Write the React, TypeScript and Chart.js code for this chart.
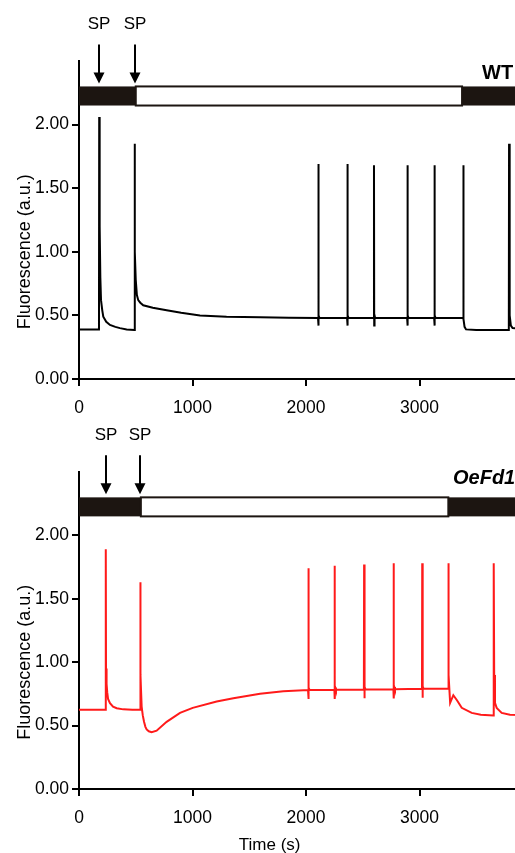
import React, { useEffect, useRef } from 'react';
import { Chart, registerables } from 'chart.js';

Chart.register(...registerables);

const FONT = "'Liberation Sans', Arial, Helvetica, sans-serif";

// Axis ticks and titles
const xTickValues = [0, 1000, 2000, 3000];
const yTickValues = [0, 0.5, 1.0, 1.5, 2.0];
const yTitleText = 'Fluorescence (a.u.)';
const xTitleText = 'Time (s)';
const spText = 'SP';

// WT trace (time in s, fluorescence a.u.)
const wtTime = [
  0, 176, 178, 182, 188, 194, 205, 214, 240, 273, 320, 361, 420, 488,
  490, 493, 500, 510, 522, 540, 566, 650, 772, 900, 1066, 1300, 1595, 1850,
  2106, 2108, 2110, 2113, 2118,
  2362, 2364, 2366, 2369, 2374,
  2597, 2599, 2601, 2604, 2609,
  2891, 2893, 2895, 2898, 2903,
  3129, 3131, 3133, 3136, 3141,
  3384, 3386, 3389, 3397, 3410, 3500, 3787,
  3789, 3792, 3797, 3805, 3820, 3900, 4000,
];
const wtFluor = [
  0.39, 0.39, 2.06, 1.2, 0.8, 0.62, 0.54, 0.49, 0.45, 0.425, 0.41, 0.40, 0.39, 0.386,
  1.85, 1.0, 0.78, 0.66, 0.62, 0.60, 0.58, 0.56, 0.54, 0.52, 0.50, 0.49, 0.485, 0.482,
  0.48, 1.69, 0.42, 0.50, 0.48,
  0.48, 1.69, 0.42, 0.50, 0.48,
  0.48, 1.68, 0.42, 0.50, 0.48,
  0.48, 1.68, 0.42, 0.50, 0.48,
  0.48, 1.68, 0.42, 0.50, 0.48,
  0.48, 1.68, 0.47, 0.41, 0.39, 0.385, 0.385,
  1.85, 0.8, 0.5, 0.42, 0.40, 0.395, 0.39,
];
const wtSP = [178, 490];
const wtLight = [0, 500, 3375, 4000];

// OeFd1 trace
const oeTime = [
  0, 234, 236, 238, 243, 249, 256, 273, 300, 332, 390, 470, 538,
  540, 543, 552, 562, 573, 585, 596, 615, 640, 684, 772, 890, 1002, 1213, 1360, 1595, 1800,
  2018, 2020, 2022, 2026, 2032,
  2250, 2252, 2254, 2258, 2264,
  2510, 2512, 2514, 2518, 2524,
  2770, 2772, 2774, 2778, 2784,
  3022, 3024, 3026, 3030, 3036,
  3252, 3254, 3258, 3270, 3298, 3330, 3372, 3460, 3540, 3652,
  3654, 3658, 3665, 3680, 3724, 3797, 3900, 4000,
];
const oeFluor = [
  0.625, 0.625, 1.89, 0.95, 0.83, 0.76, 0.71, 0.677, 0.65, 0.637, 0.628, 0.625, 0.625,
  1.63, 0.9, 0.65, 0.58, 0.53, 0.49, 0.47, 0.455, 0.448, 0.46, 0.53, 0.60, 0.64, 0.69, 0.715, 0.752, 0.77,
  0.78, 1.74, 0.71, 0.80, 0.78,
  0.782, 1.76, 0.71, 0.80, 0.782,
  0.785, 1.77, 0.715, 0.805, 0.785,
  0.787, 1.78, 0.715, 0.805, 0.787,
  0.79, 1.78, 0.72, 0.81, 0.79,
  0.79, 1.78, 0.9, 0.68, 0.74, 0.70, 0.64, 0.60, 0.585, 0.58,
  1.78, 0.9, 0.68, 0.64, 0.60, 0.585, 0.583, 0.58,
];
const oeSP = [234, 540];
const oeLight = [0, 545, 3254, 4000];

type PanelProps = {
  time: number[];
  fluor: number[];
  color: string;
  sp: number[];
  light: number[];
  label: string;
  italic: boolean;
  labelX: number;
  labelGap: number;
  top: number;
  height: number;
  areaTop: number;
  areaBottom: number;
  showXTitle: boolean;
};

const CANVAS_W = 560;
const AREA_LEFT = 79;
const AREA_RIGHT = 533;
const BAR_DARK = '#1c1511';

function Panel(props: PanelProps) {
  const ref = useRef<HTMLCanvasElement | null>(null);
  useEffect(() => {
    const canvas = ref.current;
    if (!canvas) return;
    const p = props;
    const plugin = {
      id: 'annot',
      afterDraw(chart: any) {
        const { ctx } = chart;
        const x = chart.scales.x;
        const y = chart.scales.y;
        ctx.save();
        const barTop = y.getPixelForValue(2.3);
        const barBot = y.getPixelForValue(2.15);
        const px = (v: number) => x.getPixelForValue(v);
        // light bar
        ctx.fillStyle = BAR_DARK;
        ctx.fillRect(px(p.light[0]), barTop, px(p.light[1]) - px(p.light[0]), barBot - barTop);
        ctx.fillRect(px(p.light[2]), barTop, px(p.light[3]) - px(p.light[2]), barBot - barTop);
        ctx.fillStyle = '#fff';
        ctx.fillRect(px(p.light[1]), barTop, px(p.light[2]) - px(p.light[1]), barBot - barTop);
        ctx.strokeStyle = BAR_DARK;
        ctx.lineWidth = 2;
        ctx.strokeRect(px(p.light[1]), barTop, px(p.light[2]) - px(p.light[1]), barBot - barTop);
        // SP arrows
        ctx.fillStyle = '#000';
        ctx.strokeStyle = '#000';
        ctx.font = `17px ${FONT}`;
        ctx.textAlign = 'center';
        ctx.textBaseline = 'alphabetic';
        for (const t of p.sp) {
          const ax = Math.round(px(t));
          const tail = barTop - 42;
          const tip = barTop - 3;
          ctx.lineWidth = 2;
          ctx.beginPath();
          ctx.moveTo(ax, tail);
          ctx.lineTo(ax, tip - 8);
          ctx.stroke();
          ctx.beginPath();
          ctx.moveTo(ax - 5.5, tip - 11);
          ctx.lineTo(ax + 5.5, tip - 11);
          ctx.lineTo(ax, tip);
          ctx.closePath();
          ctx.fill();
          ctx.fillText(spText, ax, barTop - 57);
        }
        // genotype label
        ctx.font = `${p.italic ? 'italic ' : ''}bold 20px ${FONT}`;
        ctx.textAlign = 'left';
        ctx.fillText(p.label, p.labelX, barTop - p.labelGap);
        // y title
        const yc = (y.getPixelForValue(0) + y.getPixelForValue(2)) / 2;
        ctx.save();
        ctx.translate(29.5, yc);
        ctx.rotate(-Math.PI / 2);
        ctx.font = `18px ${FONT}`;
        ctx.textAlign = 'center';
        ctx.fillText(yTitleText, 0, 0);
        ctx.restore();
        // x title
        if (p.showXTitle) {
          ctx.font = `17px ${FONT}`;
          ctx.textAlign = 'center';
          ctx.fillText(xTitleText, px(1680), chart.height - 3);
        }
        ctx.restore();
      },
    };
    const chart = new Chart(canvas, {
      type: 'line',
      data: {
        datasets: [
          {
            data: p.time.map((t, i) => ({ x: t, y: p.fluor[i] })),
            borderColor: p.color,
            borderWidth: 2,
            pointRadius: 0,
            tension: 0,
            fill: false,
          },
        ],
      },
      options: {
        animation: false,
        responsive: false,
        devicePixelRatio: 1,
        events: [],
        layout: {
          padding: { left: 0, top: p.areaTop, right: CANVAS_W - AREA_RIGHT, bottom: 0 },
        },
        plugins: { legend: { display: false }, tooltip: { enabled: false }, title: { display: false } },
        scales: {
          x: {
            type: 'linear',
            min: 0,
            max: 4000,
            afterBuildTicks: (s: any) => {
              s.ticks = xTickValues.map((v) => ({ value: v }));
            },
            afterFit: (s: any) => {
              s.height = p.height - p.areaBottom;
            },
            ticks: {
              autoSkip: false,
              maxRotation: 0,
              color: '#000',
              font: { family: FONT, size: 17.5 },
              padding: 12,
              callback: (v: any) => String(v),
            },
            grid: { drawOnChartArea: false, drawTicks: true, tickLength: 7, color: '#000', lineWidth: 2 },
            border: { display: true, color: '#000', width: 2 },
          },
          y: {
            type: 'linear',
            min: 0,
            max: 2.5,
            afterBuildTicks: (s: any) => {
              s.ticks = yTickValues.map((v) => ({ value: v }));
            },
            afterFit: (s: any) => {
              s.width = AREA_LEFT;
            },
            ticks: {
              color: '#000',
              font: { family: FONT, size: 17.5 },
              padding: 3,
              callback: (v: any) => Number(v).toFixed(2),
            },
            grid: { drawOnChartArea: false, drawTicks: true, tickLength: 7, color: '#000', lineWidth: 2 },
            border: { display: true, color: '#000', width: 2 },
          },
        },
      } as any,
      plugins: [plugin],
    });
    return () => chart.destroy();
  }, []);
  return (
    <canvas
      ref={ref}
      width={CANVAS_W}
      height={props.height}
      style={{ position: 'absolute', left: 0, top: props.top, width: CANVAS_W, height: props.height }}
    />
  );
}

export default function App() {
  return (
    <div
      style={{
        position: 'fixed',
        left: 0,
        top: 0,
        width: 515,
        height: 853,
        overflow: 'hidden',
        background: '#fff',
      }}
    >
      <Panel
        time={wtTime}
        fluor={wtFluor}
        color="#000000"
        sp={wtSP}
        light={wtLight}
        label="WT"
        italic={false}
        labelX={482}
        labelGap={7}
        top={0}
        height={415}
        areaTop={61}
        areaBottom={379}
        showXTitle={false}
      />
      <Panel
        time={oeTime}
        fluor={oeFluor}
        color="#ff1a1a"
        sp={oeSP}
        light={oeLight}
        label="OeFd1"
        italic={true}
        labelX={453}
        labelGap={13}
        top={415}
        height={438}
        areaTop={57}
        areaBottom={374}
        showXTitle={true}
      />
    </div>
  );
}
